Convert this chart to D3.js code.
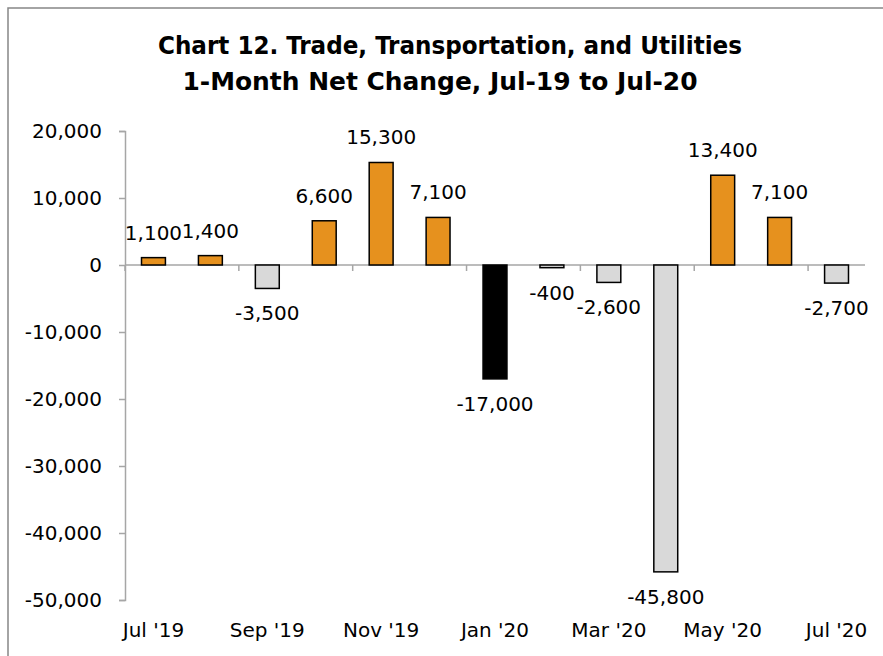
<html>
<head>
<meta charset="utf-8">
<script src="https://d3js.org/d3.v7.min.js"></script>
<style>
body { margin: 0; background: #fff; }
svg { display: block; }
</style>
</head>
<body>
<svg id="chart" width="883" height="656"></svg>
<script>
// data
var months = ["Jul '19", "Aug '19", "Sep '19", "Oct '19", "Nov '19", "Dec '19", "Jan '20",
              "Feb '20", "Mar '20", "Apr '20", "May '20", "Jun '20", "Jul '20"];
var netChange = [1100, 1400, -3500, 6600, 15300, 7100, -17000, -400, -2600, -45800, 13400, 7100, -2700];
var yTicks = [20000, 10000, 0, -10000, -20000, -30000, -40000, -50000];
var titleLines = ["Chart 12. Trade, Transportation, and Utilities", "1-Month Net Change, Jul-19 to Jul-20"];
var highlightMonth = "Jan '20";

var svg = d3.select("#chart");
var bodyFont = "'DejaVu Sans', sans-serif";
var fmt = d3.formatLocale({decimal: ".", thousands: ",", grouping: [3], currency: ["$", ""], minus: "-"}).format(",");

// outer frame (right and bottom edges fall outside the picture)
svg.append("rect")
  .attr("x", 8).attr("y", 8)
  .attr("width", 900).attr("height", 700)
  .attr("fill", "none")
  .attr("stroke", "#868686")
  .attr("stroke-width", 1.5);

// title
svg.selectAll("text.title").data(titleLines).enter().append("text")
  .attr("class", "title")
  .attr("x", function(d, i){ return i == 0 ? 450 : 440; })
  .attr("y", function(d, i){ return 46 + i * 36; })
  .attr("text-anchor", "middle")
  .attr("dominant-baseline", "central")
  .attr("textLength", function(d, i){ return i == 0 ? 584 : 515; })
  .attr("lengthAdjust", "spacingAndGlyphs")
  .style("font-family", "'DejaVu Sans Condensed', 'DejaVu Sans', sans-serif")
  .style("font-weight", "bold")
  .style("font-size", "24px")
  .text(function(d){ return d; });

var xScale = d3.scaleBand().domain(months).range([125, 865]).paddingInner(0.58).paddingOuter(0.29);
var yScale = d3.scaleLinear().domain([-50000, 20000]).range([600, 131]);
var step = xScale.step();

// y axis
var yAxis = d3.axisLeft(yScale).tickValues(yTicks).tickFormat(fmt).tickSize(6).tickPadding(17);
var gy = svg.append("g").attr("transform", "translate(125,0)").call(yAxis);
gy.select(".domain").attr("stroke", "#a6a6a6").attr("stroke-width", 1.5);
gy.selectAll(".tick line").attr("stroke", "#a6a6a6").attr("stroke-width", 1.5);
gy.selectAll(".tick text")
  .style("font-family", bodyFont).style("font-size", "20px").attr("fill", "#000");

// x axis line at zero with ticks every second month
svg.append("line")
  .attr("x1", 125).attr("x2", 865)
  .attr("y1", yScale(0)).attr("y2", yScale(0))
  .attr("stroke", "#a6a6a6").attr("stroke-width", 1.5);
var tickPos = d3.range(0, months.length, 2).map(function(i){ return 125 + i * step; });
svg.selectAll("line.xtick").data(tickPos).enter().append("line")
  .attr("class", "xtick")
  .attr("x1", function(d){ return d; }).attr("x2", function(d){ return d; })
  .attr("y1", yScale(0)).attr("y2", yScale(0) + 6)
  .attr("stroke", "#a6a6a6").attr("stroke-width", 1.5);

// bars
var data = months.map(function(m, i){ return {month: m, value: netChange[i]}; });
svg.selectAll("rect.bar").data(data).enter().append("rect")
  .attr("class", "bar")
  .attr("x", function(d){ return xScale(d.month); })
  .attr("width", xScale.bandwidth())
  .attr("y", function(d){ return yScale(Math.max(0, d.value)); })
  .attr("height", function(d){ return Math.abs(yScale(d.value) - yScale(0)); })
  .attr("fill", function(d){
    if (d.month == highlightMonth) return "#000";
    return d.value >= 0 ? "#e6911e" : "#d9d9d9";
  })
  .attr("stroke", "#000")
  .attr("stroke-width", 1.5);

// value labels
svg.selectAll("text.val").data(data).enter().append("text")
  .attr("class", "val")
  .attr("x", function(d){ return xScale(d.month) + xScale.bandwidth() / 2; })
  .attr("y", function(d){ return yScale(d.value) + (d.value >= 0 ? -25 : 25); })
  .attr("text-anchor", "middle")
  .attr("dominant-baseline", "central")
  .style("font-family", bodyFont).style("font-size", "20px")
  .text(function(d){ return fmt(d.value); });

// month labels, every second month
svg.selectAll("text.month").data(months.filter(function(m, i){ return i % 2 == 0; })).enter().append("text")
  .attr("class", "month")
  .attr("x", function(d){ return xScale(d) + xScale.bandwidth() / 2; })
  .attr("y", 630)
  .attr("text-anchor", "middle")
  .attr("dominant-baseline", "central")
  .style("font-family", bodyFont).style("font-size", "20px")
  .text(function(d){ return d; });
</script>
</body>
</html>
